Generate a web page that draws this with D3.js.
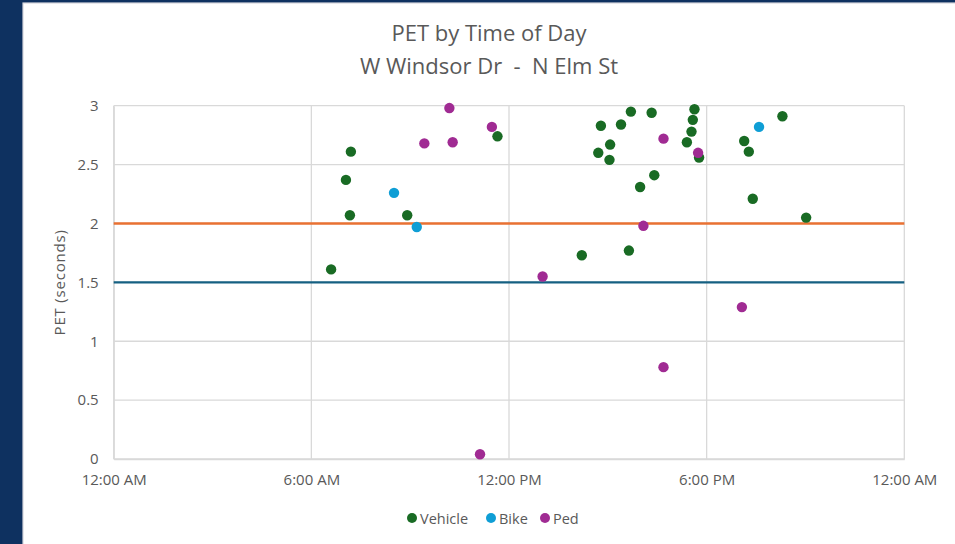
<!DOCTYPE html>
<html>
<head>
<meta charset="utf-8">
<script src="https://cdn.jsdelivr.net/npm/d3@7"></script>
<style>
  html, body { margin: 0; padding: 0; background: #0e3160; }
  svg { display: block; }
</style>
</head>
<body>
<svg id="chart" width="955" height="544"></svg>
<script>
// Time of day in decimal hours, PET in seconds
const vehicleTime = [6.60, 7.05, 7.17, 7.20, 8.91, 11.65, 14.21, 14.71, 14.79, 15.05, 15.07, 15.40, 15.64, 15.70, 15.98, 16.33, 16.41, 17.40, 17.54, 17.58, 17.63, 17.77, 19.14, 19.28, 19.40, 20.30, 21.02];
const vehiclePET  = [1.61, 2.37, 2.07, 2.61, 2.07, 2.74, 1.73, 2.60, 2.83, 2.54, 2.67, 2.84, 1.77, 2.95, 2.31, 2.94, 2.41, 2.69, 2.78, 2.88, 2.97, 2.56, 2.70, 2.61, 2.21, 2.91, 2.05];
const bikeTime = [8.51, 9.20, 19.59];
const bikePET  = [2.26, 1.97, 2.82];
const pedTime = [9.43, 10.19, 10.29, 11.12, 11.48, 13.02, 16.08, 16.69, 16.69, 17.74, 19.07];
const pedPET  = [2.68, 2.98, 2.69, 0.04, 2.82, 1.55, 1.98, 2.72, 0.78, 2.60, 1.29];

const xTickHours  = [0, 6, 12, 18, 24];
const xTickLabels = ["12:00 AM", "6:00 AM", "12:00 PM", "6:00 PM", "12:00 AM"];
const yTicks = [0, 0.5, 1, 1.5, 2, 2.5, 3];
const thresholds = [2, 1.5];

const seriesNames = ["Vehicle", "Bike", "Ped"];
const seriesColors = ["#196b24", "#0f9ed5", "#a02b93"];
const thresholdColors = ["#e97132", "#156082"];

const font = "'Open Sans', 'Noto Sans', sans-serif";
const textColor = "#595959";
const svg = d3.select("#chart");

// white chart panel
svg.append("rect").attr("x", 23).attr("y", 3).attr("width", 940).attr("height", 550)
  .attr("fill", "#ffffff").attr("stroke", "#d6d6dc").attr("stroke-width", 1.2);

const x = d3.scaleLinear().domain([0, 24]).range([113.7, 904.3]);
const y = d3.scaleLinear().domain([0, 3]).range([459, 105.7]);

// gridlines
svg.append("g").selectAll("line").data(yTicks).join("line")
  .attr("x1", x(0)).attr("x2", x(24))
  .attr("y1", d => y(d)).attr("y2", d => y(d))
  .attr("stroke", "#d9d9d9").attr("stroke-width", 1.3);
svg.append("g").selectAll("line").data(xTickHours).join("line")
  .attr("x1", d => x(d)).attr("x2", d => x(d))
  .attr("y1", y(0)).attr("y2", y(3))
  .attr("stroke", "#d9d9d9").attr("stroke-width", 1.3);

// axes
const yAxis = svg.append("g").attr("transform", `translate(${x(0)},0)`)
  .call(d3.axisLeft(y).tickValues(yTicks).tickSize(0).tickPadding(15).tickFormat(d3.format("~g")));
const xAxis = svg.append("g").attr("transform", `translate(0,${y(0)})`)
  .call(d3.axisBottom(x).tickValues(xTickHours).tickSize(0).tickPadding(15)
    .tickFormat((d, i) => xTickLabels[i]));
[yAxis, xAxis].forEach(g => {
  g.select(".domain").attr("stroke", "#d9d9d9").attr("stroke-width", 1.3);
  g.selectAll("text").attr("fill", textColor).style("font-family", font).style("font-size", "15px");
});

// threshold lines
svg.append("g").selectAll("line").data(thresholds).join("line")
  .attr("x1", x(0)).attr("x2", x(24))
  .attr("y1", d => y(d)).attr("y2", d => y(d))
  .attr("stroke", (d, i) => thresholdColors[i]).attr("stroke-width", 2.4);

// scatter points
const series = [
  vehicleTime.map((t, i) => ({ t, v: vehiclePET[i] })),
  bikeTime.map((t, i) => ({ t, v: bikePET[i] })),
  pedTime.map((t, i) => ({ t, v: pedPET[i] }))
];
series.forEach((pts, s) => {
  svg.append("g").selectAll("circle").data(pts).join("circle")
    .attr("cx", d => x(d.t)).attr("cy", d => y(d.v)).attr("r", 5.2)
    .attr("fill", seriesColors[s]);
});

// titles
svg.append("text").attr("x", 489).attr("y", 41).attr("text-anchor", "middle")
  .attr("fill", textColor).style("font-family", font).style("font-size", "22px")
  .text("PET by Time of Day");
svg.append("text").attr("x", 489).attr("y", 74).attr("text-anchor", "middle")
  .attr("fill", textColor).style("font-family", font).style("font-size", "22px")
  .attr("xml:space", "preserve").style("white-space", "pre")
  .text("W Windsor Dr  -  N Elm St");

// y axis title
svg.append("text").attr("transform", `translate(65,${(y(0) + y(3)) / 2}) rotate(-90)`)
  .attr("text-anchor", "middle").attr("fill", textColor)
  .style("font-family", font).style("font-size", "15px").style("letter-spacing", "0.8px")
  .text("PET (seconds)");

// legend
const legendX = [412, 491, 545];
const legend = svg.append("g");
seriesNames.forEach((name, i) => {
  legend.append("circle").attr("cx", legendX[i]).attr("cy", 518).attr("r", 5).attr("fill", seriesColors[i]);
  legend.append("text").attr("x", legendX[i] + 8).attr("y", 523.5)
    .attr("fill", textColor).style("font-family", font).style("font-size", "14.5px").text(name);
});
</script>
</body>
</html>
